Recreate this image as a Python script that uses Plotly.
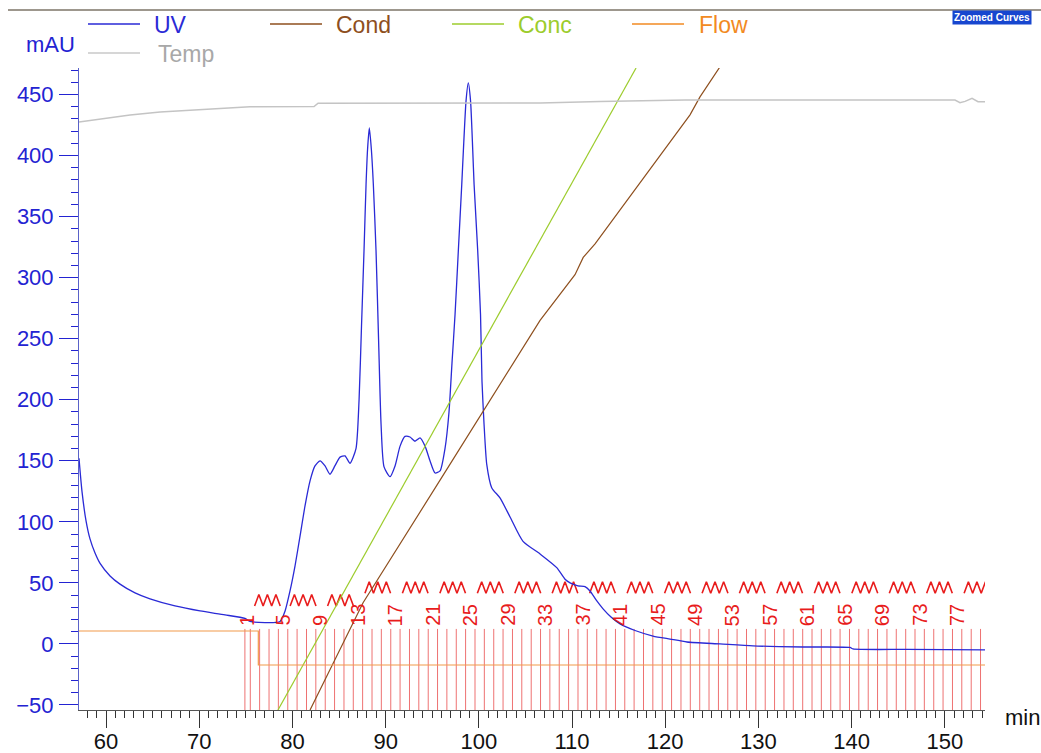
import plotly.graph_objects as go

# ---- Chromatogram curves -------------------------------------------------
# UV absorbance (mAU) against elution time (min)
uv_time = [57.10, 57.42, 57.85, 58.28, 58.82, 59.36, 60.43, 61.50, 63.11, 64.72,
           67.40, 70.09, 72.77, 74.91, 75.45, 78.67, 79.21, 79.74, 80.28, 80.82,
           81.35, 81.89, 82.42, 82.96, 83.50, 84.03, 84.57, 85.11, 85.64, 86.18,
           86.82, 87.15, 87.41, 87.68, 87.90, 88.06, 88.25, 88.47, 88.68, 88.97,
           89.24, 89.51, 89.83, 90.47, 91.01, 91.55, 92.08, 92.62, 93.15, 93.69,
           94.23, 94.76, 95.30, 95.84, 96.37, 96.80, 97.12, 97.45, 97.80, 98.17,
           98.34, 98.63, 98.87, 99.11, 99.35, 99.49, 99.88, 100.18, 100.34, 100.56,
           100.85, 101.38, 102.27, 103.35, 104.74, 106.57, 108.36, 109.25, 109.79, 110.64,
           111.39, 111.93, 112.58, 113.33, 114.18, 115.15, 116.76, 118.69, 120.52, 122.34,
           125.88, 129.42, 134.79, 139.83, 140.15, 145.94, 154.31]
uv_mau = [152, 125, 101, 86, 74.5, 66, 55.7, 49, 41.8, 36.9,
          31.1, 27, 23.8, 20.9, 18.4, 18.4, 27, 43.4, 64, 88.5,
          113, 133.5, 145.8, 150, 145.8, 139, 146, 153, 154, 148,
          160, 200, 260, 322, 376.5, 405, 422.6, 405, 376.5, 322,
          250, 180, 145, 137, 145.8, 162, 170, 169.5, 166, 168.7,
          162, 150, 140, 141.7, 160, 190, 230, 270, 322, 376.5,
          403.8, 445, 459.5, 445, 403.8, 376.5, 322, 270, 215, 180,
          147, 128, 119.6, 104, 84, 73.7, 62.5, 53, 50, 47.5,
          47, 43.4, 36, 28.7, 22, 16.4, 11, 6.5, 4, 1.6,
          0, -1.6, -2.5, -2.9, -4.1, -4.5, -4.9]

# Conductivity (mS/cm)
cond_time = [81.89, 87.58, 95.84, 102.60, 106.57, 110.32, 111.20, 112.47, 118.37, 122.66, 123.73, 125.88]
cond_ms = [0, 16.7, 35.8, 51.4, 60.7, 67.8, 70.5, 72.6, 84.3, 92.7, 95.5, 100.2]

# Gradient concentration (%B)
conc_time = [78.45, 116.87]
conc_pct = [0, 100]

# Flow rate (ml/min)
flow_time = [57.10, 76.34, 154.31]
flow_ml = [1.0, 0.5, 0.5]

# Column temperature (°C)
temp_time = [57.10, 58.28, 60.43, 62.58, 65.80, 69.00, 72.23, 75.45, 82.32, 82.75,
             106.57, 113.00, 122.12, 151.09, 151.63, 152.17, 152.92, 153.56, 154.31]
temp_c = [22.90, 22.96, 23.09, 23.17, 23.29, 23.36, 23.44, 23.49, 23.50, 23.63,
          23.64, 23.70, 23.75, 23.75, 23.65, 23.70, 23.82, 23.69, 23.69]

# Fraction collector boundaries (min) and the numbered fractions
frac_bounds = [74.90, 75.48, 76.48, 77.49, 78.49, 79.50, 80.50, 81.51, 82.51, 83.52,
               84.52, 85.53, 86.53, 87.53, 88.54, 89.54, 90.55, 91.55, 92.56, 93.56,
               94.57, 95.57, 96.57, 97.58, 98.58, 99.59, 100.59, 101.60, 102.60, 103.61,
               104.61, 105.62, 106.62, 107.62, 108.63, 109.63, 110.64, 111.64, 112.65, 113.65,
               114.66, 115.66, 116.66, 117.67, 118.67, 119.68, 120.68, 121.69, 122.69, 123.70,
               124.70, 125.71, 126.71, 127.71, 128.72, 129.72, 130.73, 131.73, 132.74, 133.74,
               134.75, 135.75, 136.75, 137.76, 138.76, 139.77, 140.77, 141.78, 142.78, 143.79,
               144.79, 145.80, 146.80, 147.80, 148.81, 149.81, 150.82, 151.82, 152.83, 153.83]
frac_labels = [1, 5, 9, 13, 17, 21, 25, 29, 33, 37, 41, 45, 49, 53, 57, 61, 65, 69, 73, 77]

X_RANGE = [57.10, 154.31]
Y_RANGE = [-54.1, 471.7]

# ---- Colours --------------------------------------------------------------
C_UV = "#2a2ad6"
C_COND = "#8e4f1e"
C_CONC = "#9ccc2c"
C_FLOW = "#f29a4a"
C_TEMP = "#c4c4c4"
C_FRAC = "#e81c1c"
C_FRAC_LINE = "rgba(232,60,60,0.72)"
C_AXIS_BLUE = "#2323d2"

FONT = "Arial, Liberation Sans, sans-serif"

fig = go.Figure()

# Fraction marks: vertical lines at each boundary
fx, fy = [], []
for b in frac_bounds:
    fx += [b, b, None]
    fy += [12.3, Y_RANGE[0] - 10, None]
fig.add_trace(go.Scatter(x=fx, y=fy, mode="lines",
                         line=dict(color=C_FRAC_LINE, width=1), hoverinfo="skip"))

# Waste markers (zigzags) between the numbered fractions
zx, zy = [], []
for lab in frac_labels:
    lo, hi = frac_bounds[lab - 1], frac_bounds[min(lab, len(frac_bounds) - 1)]
    w = hi - lo if lab > 1 else frac_bounds[2] - frac_bounds[1]
    c = (lo + hi) / 2
    base = 31.0 if lab < 10 else 41.5
    start = c + 0.75 * w
    step = 2.75 * w / 6
    for k in range(7):
        zx.append(start + k * step)
        zy.append(base + (9.5 if k % 2 else 0.0))
    zx.append(None)
    zy.append(None)
fig.add_trace(go.Scatter(x=zx, y=zy, mode="lines",
                         line=dict(color=C_FRAC, width=1.6), hoverinfo="skip"))

# Curves on their own hidden scales
fig.add_trace(go.Scatter(x=temp_time, y=temp_c, mode="lines", yaxis="y5",
                         line=dict(color=C_TEMP, width=1.5), name="Temp"))
fig.add_trace(go.Scatter(x=flow_time, y=flow_ml, mode="lines", yaxis="y4",
                         line=dict(color=C_FLOW, width=1.2, shape="hv"), name="Flow"))
fig.add_trace(go.Scatter(x=conc_time, y=conc_pct, mode="lines", yaxis="y3",
                         line=dict(color=C_CONC, width=1.2), name="Conc"))
fig.add_trace(go.Scatter(x=cond_time, y=cond_ms, mode="lines", yaxis="y2",
                         line=dict(color=C_COND, width=1.2), name="Cond"))
fig.add_trace(go.Scatter(x=uv_time, y=uv_mau, mode="lines",
                         line=dict(color=C_UV, width=1.3, shape="spline", smoothing=0.6),
                         name="UV"))

# Fraction numbers, rotated
annotations = []
for lab in frac_labels:
    c = (frac_bounds[lab - 1] + frac_bounds[lab]) / 2
    annotations.append(dict(x=c, y=13.9, xref="x", yref="y", text=str(lab),
                            textangle=-90, showarrow=False, xanchor="center",
                            yanchor="bottom", borderpad=0,
                            font=dict(family=FONT, size=20, color=C_FRAC)))

# Plot area in pixels (for placing items outside it)
L, R, T, B = 79, 985, 68, 710
W_PX, H_PX = R - L, B - T


def px(xp):
    return (xp - L) / W_PX


def py(yp):
    return (B - yp) / H_PX


shapes = [dict(type="line", xref="paper", yref="paper", x0=px(8), x1=px(1045),
               y0=py(10), y1=py(10), line=dict(color="#9d978d", width=2))]

# Custom legend: line sample + coloured label
legend_items = [("UV", C_UV, 88, 152, 24),
                ("Cond", C_COND, 270, 334, 24),
                ("Conc", C_CONC, 452, 516, 24),
                ("Flow", "#f28a22", 632, 697, 24),
                ("Temp", "#c8c8c8", 88, 156, 53)]
for name, col, lx, tx, ly in legend_items:
    shapes.append(dict(type="line", xref="paper", yref="paper", x0=px(lx), x1=px(lx + 52),
                       y0=py(ly), y1=py(ly), line=dict(color=col, width=1.5)))
    tcol = "#a8a8a8" if name == "Temp" else col
    annotations.append(dict(x=px(tx), y=py(ly + 1), xref="paper", yref="paper", text=name,
                            showarrow=False, xanchor="left", yanchor="middle",
                            font=dict(family=FONT, size=23, color=tcol)))

annotations.append(dict(x=px(24), y=py(44), xref="paper", yref="paper", text="mAU",
                        showarrow=False, xanchor="left", yanchor="middle",
                        font=dict(family=FONT, size=22, color=C_AXIS_BLUE)))
annotations.append(dict(x=px(1003), y=py(717), xref="paper", yref="paper", text="min",
                        showarrow=False, xanchor="left", yanchor="middle",
                        font=dict(family=FONT, size=22, color="#111111")))
annotations.append(dict(x=px(952), y=py(17.5), xref="paper", yref="paper",
                        text="<b>Zoomed Curves</b>", showarrow=False,
                        xanchor="left", yanchor="middle", bgcolor="#1746cf",
                        borderpad=1, font=dict(family=FONT, size=10, color="white")))

hidden = dict(overlaying="y", visible=False, fixedrange=True)

fig.update_layout(
    width=1041, height=753,
    margin=dict(l=L, r=1041 - R, t=T, b=753 - B, autoexpand=False),
    paper_bgcolor="white", plot_bgcolor="white",
    showlegend=False,
    font=dict(family=FONT),
    xaxis=dict(range=X_RANGE, showgrid=False, zeroline=False,
               showline=True, linecolor="#555555", linewidth=1,
               ticks="outside", ticklen=17, tickcolor="#333333", tickwidth=1,
               tick0=0, dtick=10, tickfont=dict(size=22, color="#111111"),
               ticklabelstandoff=-5,
               minor=dict(ticks="outside", ticklen=7, dtick=1, tickcolor="#333333"),
               automargin=False),
    yaxis=dict(range=Y_RANGE, showgrid=False, zeroline=False,
               showline=True, linecolor="#5a62c8", linewidth=1,
               ticks="outside", ticklen=19, tickcolor=C_AXIS_BLUE, tickwidth=1,
               tick0=0, dtick=50, tickfont=dict(size=22, color=C_AXIS_BLUE),
               ticklabelstandoff=1,
               minor=dict(ticks="outside", ticklen=7, dtick=10, tickcolor=C_AXIS_BLUE),
               automargin=False),
    yaxis2=dict(range=[0, 100], **hidden),
    yaxis3=dict(range=[0, 100], **hidden),
    yaxis4=dict(range=[-0.162, 9.28], **hidden),
    yaxis5=dict(range=[0, 25], **hidden),
    shapes=shapes,
    annotations=annotations,
)

fig.write_html("out.html")
